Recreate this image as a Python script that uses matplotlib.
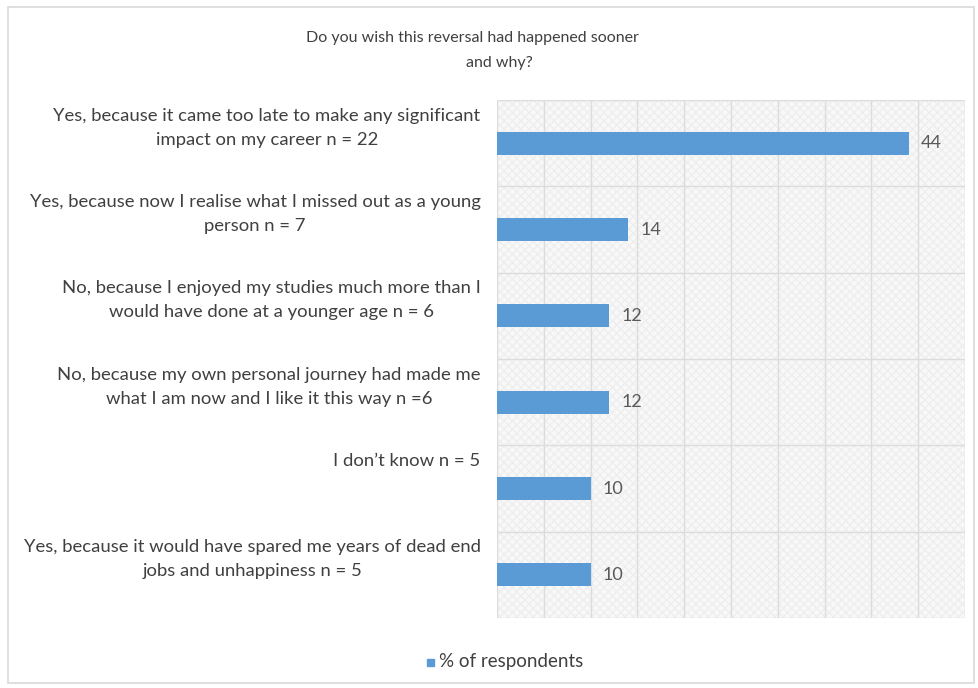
import matplotlib.pyplot as plt
from matplotlib.patches import Rectangle

categories = [
    "Yes, because it came too late to make any significant\nimpact on my career n = 22",
    "Yes, because now I realise what I missed out as a young\nperson n = 7",
    "No, because I enjoyed my studies much more than I\nwould have done at a younger age n = 6",
    "No, because my own personal journey had made me\nwhat I am now and I like it this way n =6",
    "I don\u2019t know n = 5",
    "Yes, because it would have spared me years of dead end\njobs and unhappiness n = 5",
]
values = [44, 14, 12, 12, 10, 10]
series_name = "% of respondents"
title_lines = ["Do you wish this reversal had happened sooner", "and why?"]

plt.rcParams['font.family'] = ['Lato', 'DejaVu Sans']
text_col = '#404040'
bar_col = '#5B9BD5'

fig = plt.figure(figsize=(9.79, 6.88), dpi=100)
W, H = 979, 688
ax = fig.add_axes([497 / W, 1 - 618 / H, 468 / W, 518 / H])

# outer chart frame
fig.patches.append(Rectangle((8 / W, 1 - 683 / H), 966 / W, 676 / H,
                             transform=fig.transFigure, fill=False,
                             edgecolor='#d9d9d9', linewidth=1.2))

ax.set_facecolor('#f8f8f8')
ax.add_patch(Rectangle((0, -0.5), 50, 6, facecolor='none', edgecolor='#eeeeee',
                       hatch='xxxx', linewidth=0, zorder=0))

y = list(range(len(values)))
ax.barh(y, values, height=0.27, color=bar_col, zorder=3)
for yi, v in zip(y, values):
    ax.text(v + 1.3, yi, str(v), va='center', ha='left', fontsize=13,
            color='#595959')

ax.set_xlim(0, 50)
ax.set_ylim(5.5, -0.5)
ax.set_xticks(range(0, 51, 5))
ax.set_yticks([i - 0.5 for i in range(7)])
ax.tick_params(length=0, labelbottom=False, labelleft=False)
ax.grid(True, color='#dcdcdc', linewidth=1, zorder=1)
ax.set_axisbelow(True)
for s in ax.spines.values():
    s.set_visible(False)

# category labels sit at the top of each band
for yi, lab in zip(y, categories):
    ax.text(-0.035, yi - 0.41, lab, transform=ax.get_yaxis_transform(),
            ha='right', va='top', multialignment='center', fontsize=13.3,
            color=text_col, linespacing=1.6)

fig.text(472 / W, 1 - 38 / H, title_lines[0], ha='center', va='center',
         fontsize=11.5, color=text_col)
fig.text(499 / W, 1 - 63 / H, title_lines[1], ha='center', va='center',
         fontsize=11.5, color=text_col)

# legend
fig.patches.append(Rectangle((427 / W, 1 - 666 / H), 7 / W, 7 / H,
                             transform=fig.transFigure, color=bar_col))
fig.text(439 / W, 1 - 662 / H, series_name, ha='left', va='center',
         fontsize=13.5, color=text_col)

fig.savefig('out.png', dpi=100)
